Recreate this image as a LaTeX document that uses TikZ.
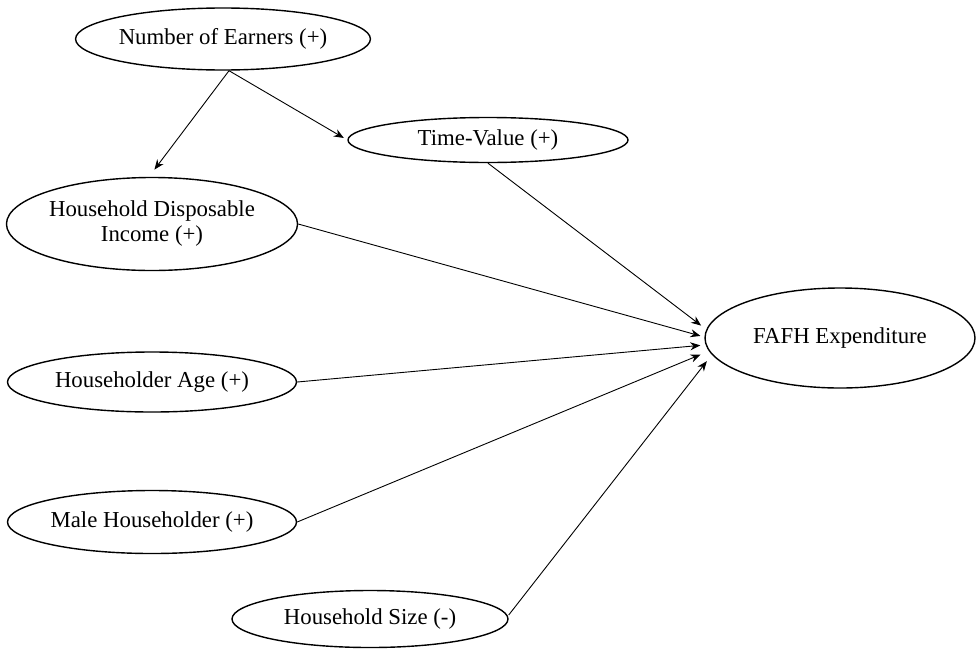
\documentclass[tikz,border=0pt]{standalone}
\usepackage{fontspec}
\setmainfont{Liberation Serif}
\usetikzlibrary{shapes.geometric,arrows.meta}

\begin{document}
\begin{tikzpicture}[x=0.5pt,y=-0.5pt]
  \useasboundingbox (0,0) rectangle (977,648);
  \begin{scope}[every node/.style={ellipse, draw, line width=0.7pt, inner sep=0pt,
      align=center, font=\fontsize{11.4}{12.5}\selectfont}]
    \node[minimum width=141pt, minimum height=31pt] (earners) at (223,39) {Number of Earners (+)} ;
    \node[minimum width=140pt, minimum height=22.5pt] (timevalue) at (488,140) {Time-Value (+)} ;
    \node[minimum width=144pt, minimum height=46.5pt] (income) at (152,224) {Household Disposable\\Income (+)} ;
    \node[minimum width=135pt, minimum height=50pt] (fafh) at (840,338) {FAFH Expenditure} ;
    \node[minimum width=144.5pt, minimum height=30pt] (age) at (152,382) {Householder Age (+)} ;
    \node[minimum width=144.5pt, minimum height=31.5pt] (male) at (152,522) {Male Householder (+)} ;
    \node[minimum width=138pt, minimum height=28.5pt] (size) at (370,619) {Household Size (-)} ;
  \end{scope}

  \begin{scope}[-{Stealth[length=5pt,width=4pt]}, line width=0.45pt, shorten >=2pt]
    \draw ([xshift=3pt]earners.south) to ([yshift=2pt]income.north);
    \draw ([xshift=3pt]earners.south) to (timevalue.west);
    \draw (timevalue.south) to ([yshift=5pt]fafh.west);
    \draw (income.east) to ([yshift=0.5pt]fafh.west);
    \draw (age.east) to ([yshift=-3.5pt]fafh.west);
    \draw (male.east) to ([yshift=-7.5pt]fafh.west);
    \draw ([yshift=2pt]size.east) to ([xshift=2.5pt,yshift=-10pt]fafh.west);
  \end{scope}
\end{tikzpicture}
\end{document}
